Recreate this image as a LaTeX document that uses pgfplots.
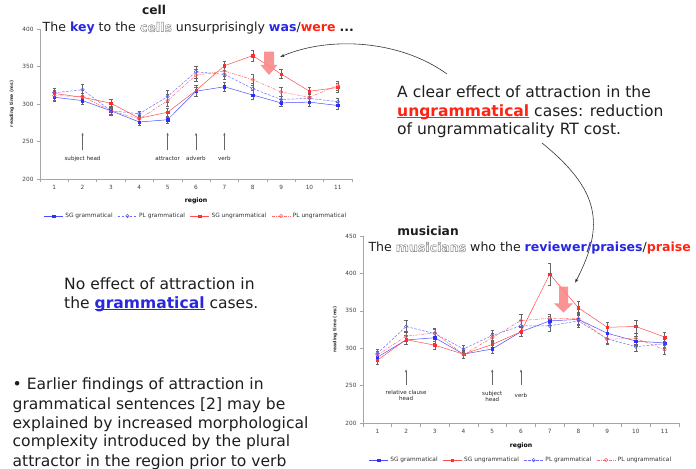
\documentclass[border=0pt]{standalone}
\usepackage{pgfplots}
\pgfplotsset{compat=1.18}
\usetikzlibrary{arrows.meta}
\usepackage{fontspec}
\setmainfont{DejaVu Sans}
\definecolor{sgblue}{RGB}{45,45,255}
\definecolor{ungred}{RGB}{255,45,45}
\definecolor{pinkarrow}{RGB}{250,135,135}
\definecolor{txtblue}{RGB}{40,40,225}
\definecolor{txtred}{RGB}{255,35,20}
\definecolor{txt}{RGB}{30,30,30}
\newcommand{\hollow}[1]{\special{pdf:literal direct 1 Tr 0.45 w 0.5 G}{\bfseries #1}\special{pdf:literal direct 0 Tr 0 G}}
\newcommand{\ul}[1]{{\setbox0\hbox{#1}\rlap{\rule[-1.7bp]{\wd0}{0.9bp}}\box0}}
\tikzset{
 ann/.style={-{Latex[length=3bp,width=2.4bp]}, black!60, line width=0.5bp},
 annt/.style={font=\fontsize{5.6}{6}\selectfont, text=black!85, align=center, inner sep=0pt},
}
\pgfplotsset{
 myaxis/.style={
  scale only axis, axis lines*=left, clip=false,
  axis line style={black!35, line width=0.5bp},
  xmin=0.5, xmax=11.5, ymin=200,
  xtick={1,...,11}, minor xtick={0.5,1.5,...,11.5},
  tick align=outside,
  major x tick style={draw=none},
  minor x tick style={black!35, line width=0.5bp},
  major y tick style={black!35, line width=0.5bp},
  major tick length=3bp, minor tick length=3.5bp,
  tick label style={font=\fontsize{5.8}{6}\selectfont, text=black!75},
  /pgf/number format/assume math mode=true,
  xlabel={region},
  xlabel style={font=\bfseries\fontsize{6.2}{7}\selectfont, anchor=center},
  ylabel={reading time (ms)},
  ylabel style={font=\bfseries\fontsize{4.6}{5}\selectfont, anchor=center, text=black!80},
  legend style={draw=none, fill=none, font=\fontsize{5.9}{6}\selectfont, anchor=center,
    legend columns=4, inner sep=0pt, text=black!80,
    /tikz/every even column/.append style={column sep=3bp}},
  legend image code/.code={\draw[mark repeat=2,mark phase=2] plot coordinates {(0bp,0bp) (9.5bp,0bp) (19bp,0bp)};},
 },
 eb/.style={error bars/.cd, y dir=both, y explicit,
   error bar style={black!60, line width=0.4bp, solid},
   error mark options={rotate=90, mark size=1.6bp, black!60, line width=0.4bp, solid}},
 sgg/.style={sgblue!85, line width=0.5bp, mark=square*, mark size=1.2bp, mark options={solid, fill=sgblue, draw=sgblue}},
 plg/.style={sgblue!70, line width=0.5bp, dash pattern=on 2.5bp off 1.5bp, mark=o, mark size=1.7bp, mark options={solid, draw=sgblue!80, fill=white}},
 sgu/.style={ungred!85, line width=0.5bp, mark=square*, mark size=1.2bp, mark options={solid, fill=ungred, draw=ungred}},
 plu/.style={ungred!70, line width=0.5bp, dash pattern=on 3bp off 1.2bp on 0.8bp off 1.2bp, mark=o, mark size=1.7bp, mark options={solid, draw=ungred!80, fill=white}},
}
\begin{document}
\begin{tikzpicture}
\path[use as bounding box] (0,0) rectangle (696bp,469bp);

% ---------------- chart 1 (cell) ----------------
\begin{axis}[myaxis, anchor=south west, at={(40bp,290bp)}, width=312bp, height=150bp,
  ymax=400, ytick={200,250,...,400},
  xlabel style={at={(axis description cs:0.5,-0.147)}},
  ylabel style={at={(axis description cs:-0.09,0.5)}},
  legend style={at={(axis description cs:0.5,-0.247)}}]
\addplot[sgg, eb] coordinates {(1,309)+-(0,5) (2,304.5)+-(0,5) (3,291)+-(0,5) (4,276)+-(0,4) (5,279)+-(0,5) (6,317)+-(0,6) (7,323)+-(0,6) (8,312)+-(0,6) (9,301.5)+-(0,5) (10,302.5)+-(0,5) (11,298)+-(0,5)};
\addlegendentry{SG grammatical}
\addplot[plg, eb] coordinates {(1,315)+-(0,6) (2,319)+-(0,7) (3,291)+-(0,6) (4,287)+-(0,4) (5,310)+-(0,8) (6,343)+-(0,8) (7,339.5)+-(0,6) (8,320.5)+-(0,7) (9,306)+-(0,5) (10,307.5)+-(0,5) (11,303)+-(0,5)};
\addlegendentry{PL grammatical}
\addplot[sgu, eb] coordinates {(1,314)+-(0,5) (2,309)+-(0,5) (3,301)+-(0,6) (4,281)+-(0,4) (5,289)+-(0,6) (6,318)+-(0,7) (7,351)+-(0,6) (8,364.5)+-(0,7) (9,340)+-(0,6) (10,317)+-(0,6) (11,322)+-(0,6)};
\addlegendentry{SG ungrammatical}
\addplot[plu, eb] coordinates {(1,311)+-(0,6) (2,310)+-(0,5) (3,291)+-(0,6) (4,280)+-(0,4) (5,304.5)+-(0,8) (6,338.5)+-(0,8) (7,344)+-(0,7) (8,332.5)+-(0,7) (9,316)+-(0,6) (10,309)+-(0,5) (11,325)+-(0,6)};
\addlegendentry{PL ungrammatical}
\draw[ann] (axis cs:2,238) -- (axis cs:2,262);
\draw[ann] (axis cs:5,238) -- (axis cs:5,262);
\draw[ann] (axis cs:6,238) -- (axis cs:6,262);
\draw[ann] (axis cs:7,238) -- (axis cs:7,262);
\node[annt] at (axis cs:2,227) {subject head};
\node[annt] at (axis cs:5,227) {attractor};
\node[annt] at (axis cs:6,227) {adverb};
\node[annt] at (axis cs:7,227) {verb};
\end{axis}

% ---------------- chart 2 (musician) ----------------
\begin{axis}[myaxis, anchor=south west, at={(363bp,46bp)}, width=316bp, height=187bp,
  ymax=450, ytick={200,250,...,450},
  xlabel style={at={(axis description cs:0.5,-0.123)}},
  ylabel style={at={(axis description cs:-0.0886,0.5)}},
  legend style={at={(axis description cs:0.5,-0.198)}}]
\addplot[sgg, eb] coordinates {(1,288)+-(0,5) (2,311)+-(0,6) (3,314)+-(0,7) (4,292)+-(0,5) (5,299)+-(0,6) (6,322)+-(0,6) (7,336.5)+-(0,6) (8,338.5)+-(0,8) (9,320)+-(0,7) (10,309.5)+-(0,6) (11,307)+-(0,6)};
\addlegendentry{SG grammatical}
\addplot[sgu, eb] coordinates {(1,284)+-(0,5) (2,311.5)+-(0,6) (3,304)+-(0,6) (4,292)+-(0,5) (5,305)+-(0,6) (6,322)+-(0,6) (7,399)+-(0,15) (8,354)+-(0,9) (9,328)+-(0,7) (10,329)+-(0,9) (11,315)+-(0,6)};
\addlegendentry{SG ungrammatical}
\addplot[plg, eb] coordinates {(1,293)+-(0,5) (2,329)+-(0,8) (3,319.5)+-(0,6) (4,299)+-(0,5) (5,317)+-(0,7) (6,330)+-(0,7) (7,330)+-(0,7) (8,336.5)+-(0,8) (9,312.5)+-(0,6) (10,302)+-(0,6) (11,306)+-(0,6)};
\addlegendentry{PL grammatical}
\addplot[plu, eb] coordinates {(1,291)+-(0,5) (2,316)+-(0,7) (3,320.5)+-(0,6) (4,291.5)+-(0,5) (5,314)+-(0,6) (6,337)+-(0,8) (7,340)+-(0,6) (8,339.5)+-(0,8) (9,312)+-(0,7) (10,313)+-(0,7) (11,298)+-(0,6)};
\addlegendentry{PL ungrammatical}
\draw[ann] (axis cs:2,251) -- (axis cs:2,272);
\draw[ann] (axis cs:5,251) -- (axis cs:5,272);
\draw[ann] (axis cs:6,251) -- (axis cs:6,272);
\node[annt] at (axis cs:2,237) {relative clause\\head};
\node[annt] at (axis cs:5,236) {subject\\head};
\node[annt] at (axis cs:6,237) {verb};
\end{axis}

% ---------------- titles ----------------
\node[anchor=base, inner sep=0, font=\bfseries\fontsize{12.3}{14}\selectfont, text=txt] at (154bp,454bp) {cell};
\node[anchor=base west, inner sep=0, font=\fontsize{12.6}{14}\selectfont, text=txt] at (42.5bp,437.3bp)
  {The \textcolor{txtblue}{\bfseries key} to the \hollow{cells} unsurprisingly \textcolor{txtblue}{\bfseries was}/\textcolor{txtred}{\bfseries were} \textbf{...}};
\node[anchor=base, inner sep=0, font=\bfseries\fontsize{12.3}{14}\selectfont, text=txt] at (428bp,233bp) {musician};
\node[anchor=base west, inner sep=0, font=\fontsize{12.6}{14}\selectfont, text=txt] at (368.3bp,217.3bp)
  {The \hollow{musicians} who the \textcolor{txtblue}{\bfseries reviewer/praises}/\textcolor{txtred}{\bfseries praise}};

% ---------------- big pink arrows ----------------
\fill[pinkarrow, opacity=0.9] (264bp,417.3bp) -- (274bp,417.3bp) -- (274bp,404bp) -- (277.5bp,404bp) -- (269bp,394bp) -- (260.5bp,404bp) -- (264bp,404bp) -- cycle;
\fill[pinkarrow, opacity=0.9] (559bp,182.3bp) -- (568bp,182.3bp) -- (568bp,165.7bp) -- (573bp,165.7bp) -- (563.5bp,156.3bp) -- (554bp,165.7bp) -- (559bp,165.7bp) -- cycle;

% ---------------- curved arrows ----------------
\draw[-{Latex[length=4bp,width=3bp]}, black!80, line width=0.6bp] (447bp,395bp) .. controls (400bp,429bp) and (330bp,433bp) .. (280bp,412bp);
\draw[-{Latex[length=4bp,width=3bp]}, black!80, line width=0.6bp] (542bp,326bp) .. controls (600bp,279bp) and (605bp,244bp) .. (575bp,186bp);

% ---------------- text blocks ----------------
\begin{scope}[every node/.style={anchor=base west, inner sep=0, font=\fontsize{15.6}{19}\selectfont, text=txt}]
\node at (397bp,371.7bp) {A clear effect of attraction in the};
\node at (397bp,352.3bp) {\textcolor{txtred}{\bfseries\ul{ungrammatical}} cases: reduction};
\node at (397bp,334bp) {of ungrammaticality RT cost.};
\node at (64bp,179.7bp) {No effect of attraction in};
\node at (64bp,160.7bp) {the \textcolor{txtblue}{\bfseries\ul{grammatical}} cases.};
\node at (12.5bp,79bp) {• Earlier findings of attraction in};
\node at (12.5bp,59.7bp) {grammatical sentences [2] may be};
\node at (12.5bp,40.7bp) {explained by increased morphological};
\node at (12.5bp,22.3bp) {complexity introduced by the plural};
\node at (12.5bp,3bp) {attractor in the region prior to verb};
\end{scope}
\end{tikzpicture}
\end{document}
